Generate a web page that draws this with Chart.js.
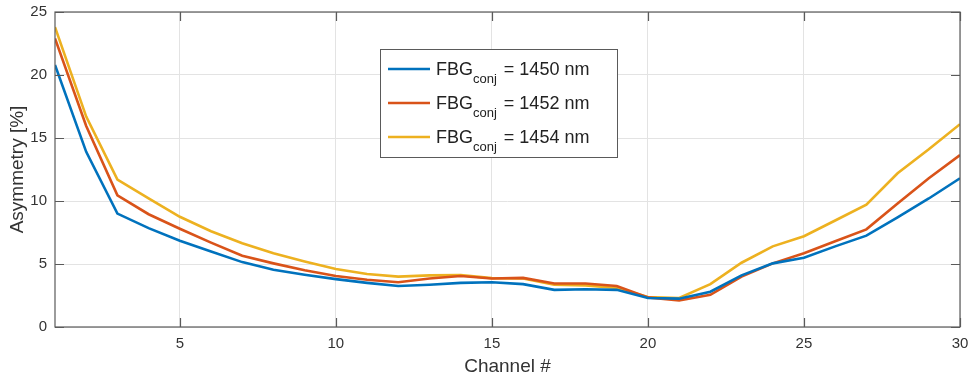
<!DOCTYPE html>
<html>
<head>
<meta charset="utf-8">
<script src="https://cdn.jsdelivr.net/npm/chart.js@4/dist/chart.umd.min.js"></script>
<style>
  html, body { margin: 0; padding: 0; background: #fff; }
  #wrap { width: 975px; height: 378px; }
</style>
</head>
<body>
<div id="wrap"><canvas id="chart" width="975" height="378"></canvas></div>
<script>
// channel numbers on x
const channels = [1,2,3,4,5,6,7,8,9,10,11,12,13,14,15,16,17,18,19,20,21,22,23,24,25,26,27,28,29,30];

// asymmetry [%]
const asym1450 = [20.8,13.9,9.0,7.85,6.85,6.0,5.15,4.55,4.15,3.8,3.5,3.25,3.35,3.5,3.55,3.4,2.95,3.0,2.95,2.3,2.25,2.8,4.1,5.05,5.5,6.4,7.25,8.7,10.2,11.8];
const asym1452 = [22.9,15.95,10.45,8.95,7.8,6.7,5.65,5.05,4.5,4.05,3.75,3.55,3.85,4.05,3.85,3.9,3.45,3.45,3.25,2.35,2.1,2.55,4.0,5.05,5.85,6.8,7.75,9.8,11.8,13.65];
const asym1454 = [23.8,16.7,11.7,10.2,8.75,7.6,6.65,5.85,5.2,4.6,4.2,4.0,4.1,4.12,3.88,3.85,3.35,3.3,3.1,2.38,2.3,3.4,5.1,6.4,7.2,8.45,9.7,12.2,14.1,16.1];

const seriesLabels = ["1450 nm", "1452 nm", "1454 nm"];
const colors = ["#0072BD", "#D95319", "#EDB120"];

const xTicks = [5,10,15,20,25,30];
const yTicks = [0,5,10,15,20,25];

function toPoints(vals){
  return channels.map((c,i) => ({x: c, y: vals[i]}));
}

const FONT = "Arial, 'Liberation Sans', Helvetica, sans-serif";
const BOX = "#5a5a5a";

// MATLAB-style box with inward ticks
const boxPlugin = {
  id: "box",
  afterDatasetsDraw(chart){
    const {ctx, chartArea: a, scales} = chart;
    ctx.save();
    ctx.strokeStyle = BOX;
    ctx.lineWidth = 1.2;
    ctx.strokeRect(a.left, a.top, a.right - a.left, a.bottom - a.top);
    ctx.beginPath();
    const len = 9;
    xTicks.forEach(v => {
      const px = Math.round(scales.x.getPixelForValue(v)) + 0.5;
      ctx.moveTo(px, a.bottom); ctx.lineTo(px, a.bottom - len);
      ctx.moveTo(px, a.top); ctx.lineTo(px, a.top + len);
    });
    yTicks.forEach(v => {
      const py = Math.round(scales.y.getPixelForValue(v)) + 0.5;
      ctx.moveTo(a.left, py); ctx.lineTo(a.left + len, py);
      ctx.moveTo(a.right, py); ctx.lineTo(a.right - len, py);
    });
    ctx.stroke();
    ctx.restore();
  }
};

// legend with subscript text
const legendPlugin = {
  id: "subLegend",
  afterDraw(chart){
    const {ctx, chartArea: a} = chart;
    const x0 = a.left + 325, y0 = 49, w = 237, h = 108;
    ctx.save();
    ctx.fillStyle = "#fff";
    ctx.fillRect(x0, y0, w, h);
    ctx.strokeStyle = BOX;
    ctx.lineWidth = 1;
    ctx.strokeRect(x0 + 0.5, y0 + 0.5, w, h);
    chart.data.datasets.forEach((ds, i) => {
      const cy = y0 + 20 + i * 34;
      ctx.strokeStyle = ds.borderColor;
      ctx.lineWidth = 2.6;
      ctx.beginPath();
      ctx.moveTo(x0 + 8, cy); ctx.lineTo(x0 + 50, cy);
      ctx.stroke();
      ctx.fillStyle = "#222";
      ctx.textBaseline = "alphabetic";
      ctx.font = "18px " + FONT;
      let tx = x0 + 56;
      ctx.fillText("FBG", tx, cy + 6);
      tx += ctx.measureText("FBG").width;
      ctx.font = "13px " + FONT;
      ctx.fillText("conj", tx, cy + 14);
      tx += ctx.measureText("conj").width;
      ctx.font = "18px " + FONT;
      ctx.fillText(" = " + seriesLabels[i], tx + 2, cy + 6);
    });
    ctx.restore();
  }
};

new Chart(document.getElementById("chart").getContext("2d"), {
  type: "line",
  data: {
    datasets: [asym1450, asym1452, asym1454].map((vals, i) => ({
      label: "FBG conj = " + seriesLabels[i],
      data: toPoints(vals),
      borderColor: colors[i],
      backgroundColor: colors[i],
      borderWidth: 2.6,
      pointRadius: 0,
      tension: 0,
      fill: false
    }))
  },
  options: {
    responsive: false,
    animation: false,
    layout: { padding: { left: 0, top: 12, right: 15, bottom: 0 } },
    plugins: { legend: { display: false }, tooltip: { enabled: false } },
    scales: {
      x: {
        type: "linear",
        min: 1, max: 30,
        afterBuildTicks: s => { s.ticks = xTicks.map(v => ({value: v})); },
        afterFit: s => { s.height = 51; s.paddingLeft = 0; s.paddingRight = 0; },
        grid: { color: "#e3e3e3", drawTicks: false, lineWidth: 1 },
        border: { display: false },
        ticks: { padding: 8, color: "#333", font: { size: 15, family: FONT } },
        title: { display: true, text: "Channel #", color: "#333", font: { size: 19, family: FONT }, padding: { top: 0, bottom: 0 } }
      },
      y: {
        min: 0, max: 25,
        afterBuildTicks: s => { s.ticks = yTicks.map(v => ({value: v})); },
        afterFit: s => { s.width = 55; s.paddingTop = 0; s.paddingBottom = 0; },
        grid: { color: "#e3e3e3", drawTicks: false, lineWidth: 1 },
        border: { display: false },
        ticks: { padding: 8, color: "#333", font: { size: 15, family: FONT } },
        title: { display: true, text: "Asymmetry [%]", color: "#333", font: { size: 19, family: FONT }, padding: { top: 6, bottom: 0 } }
      }
    }
  },
  plugins: [boxPlugin, legendPlugin]
});
</script>
</body>
</html>
